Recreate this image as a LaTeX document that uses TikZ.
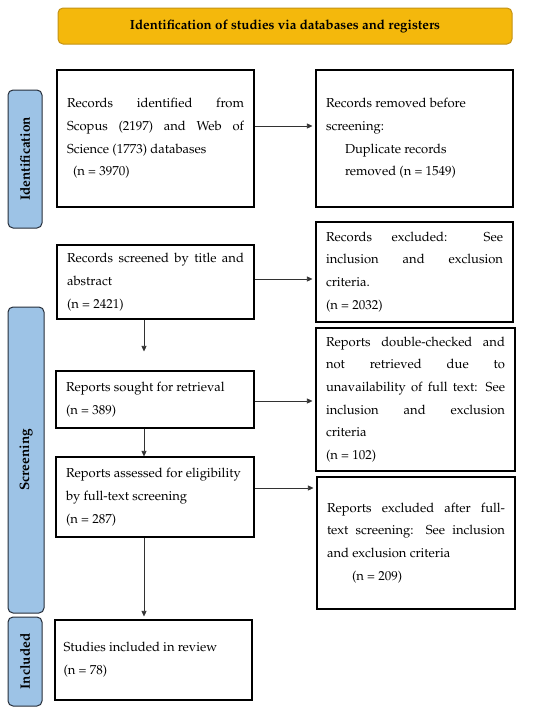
\documentclass[tikz,border=0pt]{standalone}
\usepackage[T1]{fontenc}
\usepackage{mathpazo}
\usetikzlibrary{arrows.meta}
\definecolor{banner}{RGB}{244,184,12}
\definecolor{bannerline}{RGB}{196,146,20}
\definecolor{side}{RGB}{157,195,230}
\definecolor{sideline}{RGB}{38,46,58}
\definecolor{arrcol}{RGB}{50,50,50}
\tikzset{
  box/.style={draw=black, line width=1.1pt, fill=white, inner xsep=10pt, inner ysep=0pt,
    font=\fontsize{13}{22.7}\selectfont, align=justify, anchor=center},
  sidebox/.style={draw=sideline, line width=1pt, fill=side, rounded corners=5pt, rotate=90,
    font=\fontsize{13.6}{15}\selectfont\bfseries, inner sep=0pt, anchor=center},
  arr/.style={draw=arrcol, line width=0.6pt, -{Triangle[length=5.5pt,width=5pt]}},
}
\begin{document}
\begin{tikzpicture}[x=1pt,y=-1pt]
\useasboundingbox (0,0) rectangle (550,715);
\node[draw=bannerline, line width=1pt, fill=banner, rounded corners=5pt, minimum width=454pt, minimum height=36pt,
  font=\fontsize{13.3}{15}\selectfont\bfseries, inner sep=0pt] (banner) at (285,26) {Identification of studies via databases and registers};

\node[sidebox, minimum width=138pt, minimum height=34pt] (sid) at (25,159) {Identification};
\node[sidebox, minimum width=306pt, minimum height=36pt] (ssc) at (26,460) {Screening};
\node[sidebox, minimum width=89pt, minimum height=34pt] (sin) at (25,661.5) {Included};

\node[box, text width=177pt, minimum height=137pt] (b1) at (155.5,138.5)
  {Records identified from\linebreak Scopus (2197) and Web of\linebreak Science (1773) databases\\\hspace*{6pt}(n = 3970)};
\node[box, text width=177pt, minimum height=137pt] (r1) at (414.5,138.5)
  {Records removed before\\screening:\\\hspace*{19pt}Duplicate records\\\hspace*{19pt}removed (n = 1549)};
\node[box, text width=177pt, minimum height=74pt] (b2) at (155.5,282)
  {Records screened by title and\linebreak abstract\\(n = 2421)};
\node[box, text width=177pt, minimum height=100pt] (r2) at (414.5,272)
  {Records excluded: See\linebreak inclusion and exclusion\linebreak criteria.\\(n = 2032)};
\node[box, text width=178pt, minimum height=57pt] (b3) at (155,399.5)
  {Reports sought for retrieval\\(n = 389)};
\node[box, text width=179pt, minimum height=143pt] (r3) at (415.5,399.5)
  {Reports double-checked and\linebreak not retrieved due to\linebreak unavailability of full text: See\linebreak inclusion and exclusion\linebreak criteria\\(n = 102)};
\node[box, text width=178pt, minimum height=80pt] (b4) at (155,497)
  {Reports assessed for eligibility\\by full-text screening\\(n = 287)};
\node[box, text width=178pt, minimum height=132pt] (r4) at (416,543)
  {Reports excluded after full-\linebreak text screening: See inclusion\linebreak and exclusion criteria\\\hspace*{25pt}(n = 209)};
\node[box, text width=180pt, inner xsep=8.5pt, minimum height=80pt] (b5) at (153.5,660)
  {Studies included in review\\(n = 78)};

\draw[arr, shorten >=3pt] ([yshift=12.5pt]b1.east) -- ([yshift=12.5pt]b1.east -| r1.west);
\draw[arr, shorten >=3pt] ([yshift=3pt]b2.east) -- ([yshift=3pt]b2.east -| r2.west);
\draw[arr, shorten >=3pt] ([yshift=-1.5pt]b3.east) -- ([yshift=-1.5pt]b3.east -| r3.west);
\draw[arr, shorten >=3pt] ([yshift=9pt]b4.east) -- ([yshift=9pt]b4.east -| r4.west);
\draw[arr, shorten >=19pt] ([xshift=-11.5pt]b2.south) -- ([xshift=-11.5pt]b2.south |- b3.north);
\draw[arr] ([xshift=-11pt]b3.south) -- ([xshift=-11pt]b3.south |- b4.north);
\draw[arr, shorten >=3pt] ([xshift=-11pt]b4.south) -- ([xshift=-11pt]b4.south |- b5.north);
\end{tikzpicture}
\end{document}
